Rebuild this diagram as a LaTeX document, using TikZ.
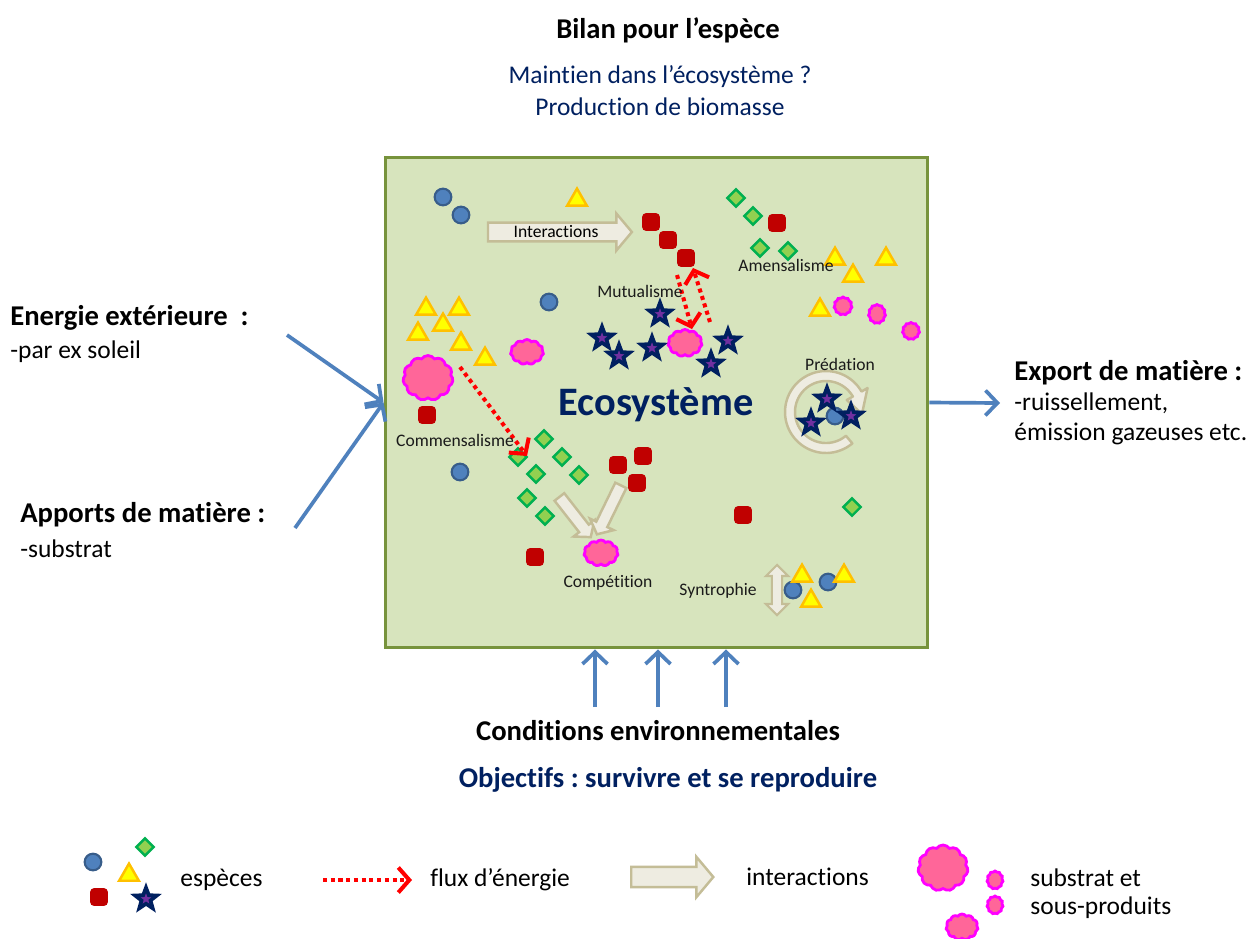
\documentclass[tikz,border=0pt]{standalone}
\usepackage{fontspec}
\setmainfont{Carlito}[Ligatures=NoCommon]
\usetikzlibrary{arrows.meta,positioning,shapes.geometric,shapes.symbols,shapes.arrows}
\frenchspacing
\definecolor{ecofill}{HTML}{D7E4BD}
\definecolor{ecoline}{HTML}{77933C}
\definecolor{flowc}{HTML}{4F81BD}
\definecolor{navytxt}{HTML}{002060}
\definecolor{inkline}{HTML}{1A1A1A}
\definecolor{spblue}{HTML}{4F81BD}
\definecolor{spblueline}{HTML}{385D8A}
\definecolor{spyel}{HTML}{FFFF00}
\definecolor{spyelline}{HTML}{FFC000}
\definecolor{spred}{HTML}{C00000}
\definecolor{spgreen}{HTML}{92D050}
\definecolor{spgreenline}{HTML}{00B050}
\definecolor{spstar}{HTML}{7030A0}
\definecolor{subfill}{HTML}{FF6699}
\definecolor{subline}{HTML}{FF00FF}
\definecolor{iafill}{HTML}{EEECE1}
\definecolor{ialine}{HTML}{C4BD97}
\newcommand{\bigt}[1]{{\fontsize{23}{26}\selectfont\bfseries #1}}

\begin{document}
\begin{tikzpicture}[
  x=0.02cm, y=-0.02cm,
  font=\fontsize{14.5}{17.5}\selectfont,
  txt/.style={anchor=west, align=left, inner sep=0pt},
  hd/.style={font=\fontsize{16.3}{19}\selectfont\bfseries, inner sep=0pt},
  lab/.style={font=\fontsize{10}{12}\selectfont, inner sep=0pt, text=inkline},
  eco/.style={draw=ecoline, fill=ecofill, line width=1.7pt, minimum width=10.86cm,
              minimum height=9.82cm, inner sep=0pt},
  flow/.style={-{Straight Barb[length=2.4mm,width=5mm]}, draw=flowc, line width=2.1pt},
  eflux/.style={-{Straight Barb[length=2.2mm,width=5mm]}, draw=red, line width=2.3pt,
                dash pattern=on 2.3pt off 2.1pt},
  % especes
  spc/.style={circle, fill=spblue, draw=spblueline, line width=1.2pt, minimum size=9.5pt, inner sep=0pt},
  spt/.style={regular polygon, regular polygon sides=3, fill=spyel, draw=spyelline, line width=1.4pt,
              minimum size=13pt, inner sep=0pt},
  sps/.style={rectangle, rounded corners=2pt, fill=spred, minimum size=10pt, inner sep=0pt},
  spd/.style={diamond, fill=spgreen, draw=spgreenline, line width=1.4pt, minimum size=10.5pt, inner sep=0pt},
  spk/.style={star, star points=5, star point ratio=2.4, fill=spstar, draw=navytxt, line width=2.1pt,
              minimum size=13pt, inner sep=0pt},
  subst/.style={cloud, cloud puffs=11, cloud puff arc=110, cloud ignores aspect, fill=subfill,
                draw=subline, line width=1.6pt, inner sep=0pt},
  % fleches d'interaction
  ia/.style={single arrow, fill=iafill, draw=ialine, line width=1.4pt, single arrow tip angle=100,
             single arrow head extend=5pt, inner xsep=0pt, inner ysep=1pt},
  iad/.style={double arrow, fill=iafill, draw=ialine, line width=1.2pt, double arrow head extend=3.4pt,
              inner xsep=0pt, inner ysep=2.3pt},
]
\fill[white] (0,0) rectangle (1257,938);
\useasboundingbox (0,0) rectangle (1257,938);

% ---- titres ----
\node[hd] (bilan) at (668,30) {Bilan pour l’espèce};
\node[align=center, text=navytxt, inner sep=0pt, font=\fontsize{14.5}{18.2}\selectfont] (maint) at (660,91)
  {Maintien dans l’écosystème ?\\Production de biomasse};

% ---- ecosysteme ----
\node[eco] (eco) at (656.5,402.5) {};
\node[text=navytxt, inner sep=0pt] (ecot) at (656,405) {\bigt{Ecosystème}};

% ---- entrees / sorties ----
\node[txt, hd] (energ) at (10,318) {Energie extérieure~~:};
\node[txt] (soleil) at (10,352) {-par ex soleil};
\node[txt, hd] (apport) at (20,515) {Apports de matière :};
\node[txt] (substr) at (20,549) {-substrat};
\node[txt, hd] (export) at (1014,373) {Export de matière :};
\node[txt, font=\fontsize{14.5}{17}\selectfont] (ruiss) at (1014,419) {-ruissellement,\\émission gazeuses etc.};
\node[hd] (cond) at (658,731) {Conditions environnementales};
\node[hd, text=navytxt] (obj) at (668,780) {Objectifs : survivre et se reproduire};

\coordinate (en0) at (287,335);
\coordinate (ap0) at (295,528);
\coordinate (ex1) at (1000,403);
\draw[flow] (en0) -- (eco.west);
\draw[flow] (ap0) -- (eco.west);
\draw[flow] (eco.east) -- (ex1);
\foreach \x [count=\i] in {595,658,726} {
  \coordinate (cd\i) at (\x,707);
  \draw[flow] (cd\i) -- (cd\i |- eco.south);
}

% ---- predation (fleche circulaire) ----
\filldraw[fill=iafill, draw=ialine, line width=1.4pt, line join=round]
  plot[domain=50:330, samples=60, variable=\t] ({826+41*cos(\t)},{412+41*sin(\t)})
  -- ({826+48*cos(330)},{412+48*sin(330)}) -- ({826+36*cos(3)},{412+36*sin(3)})
  -- ({826+24*cos(330)},{412+24*sin(330)})
  -- plot[domain=330:50, samples=60, variable=\t] ({826+31*cos(\t)},{412+31*sin(\t)}) -- cycle;

% ---- fleches d'interaction ----
\node[ia, minimum height=81.9pt, minimum width=21pt, font=\fontsize{10}{12}\selectfont] (iarr) at (556,232) {Interactions};
\node[ia, minimum height=29pt, minimum width=13.5pt, inner ysep=2.8pt, single arrow head extend=4pt, rotate=-52] (comp1) at (573.5,515) {};
\node[ia, minimum height=31pt, minimum width=13.5pt, inner ysep=2.8pt, single arrow head extend=4pt, rotate=-116] (comp2) at (610,507.5) {};
\node[iad, minimum height=28.5pt, minimum width=11.4pt, rotate=90] (synt) at (777,590) {};

% ---- substrats ----
\foreach \p/\w/\h [count=\i] in {(428,378)/28.5/25.6, (527,352)/18.8/14.2, (685,343)/19.4/15.4,
    (601,553)/19.4/14.8, (843,306)/10.2/10.2, (877,314)/9.7/10.8, (911,331)/9.7/9.7}
  \node[subst, minimum width=\w pt, minimum height=\h pt] (b\i) at \p {};

% ---- especes ----
\foreach \p [count=\i] in {(443,197),(461,215),(549,302),(460,472),(793,590),(828,582)}
  \node[spc] (c\i) at \p {};
\foreach \p [count=\i] in {(577,200),(426,309),(459,309),(443,325),(418,334),(461,344),(485,359),
    (835,259),(853,276),(886,259),(820,310),(802,576),(811,601),(844,576)}
  \node[spt] (t\i) at \p {};
\foreach \p [count=\i] in {(651,222),(668,240),(686,258),(777,223),(427,415),(618,465),(643,456),
    (637,483),(535,557),(743,515)}
  \node[sps] (s\i) at \p {};
\foreach \p [count=\i] in {(736,198),(753,216),(760,248),(788,251),(544,439),(518,457),(562,457),
    (536,474),(579,475),(527,498),(545,516),(852,507)}
  \node[spd] (d\i) at \p {};
\node[spc] (cpr) at (835,416) {};
\foreach \p [count=\i] in {(660,314),(602,338),(619,356),(652,348),(711,364),(728,341),
    (827,399),(811,423),(851,416)}
  \node[spk] (k\i) at \p {};

% ---- flux d'energie ----
\coordinate (cm0) at (460,367);
\coordinate (cm1) at (527,456);
\coordinate (mu0) at (677,275);
\coordinate (mu1) at (692,329);
\coordinate (mu2) at (710,322);
\coordinate (mu3) at (693,268);
\draw[eflux] (cm0) -- (cm1);
\draw[eflux] (mu0) -- (mu1);
\draw[eflux] (mu2) -- (mu3);

% ---- types d'interaction ----
\node[lab] (lmut) at (640,291) {Mutualisme};
\node[lab] (lame) at (786,265) {Amensalisme};
\node[lab] (lpre) at (840,364) {Prédation};
\node[lab] (lcom) at (455,440) {Commensalisme};
\node[lab] (lcmp) at (608,583) {Compétition};
\node[lab] (lsyn) at (718,591) {Syntrophie};

% ---- legende ----
\node[spc] (lgc) at (93,862) {};
\node[spd] (lgd) at (145,847) {};
\node[spt] (lgt) at (129,875) {};
\node[sps] (lgs) at (99,897) {};
\node[spk] (lgk) at (146,899) {};
\node[txt] (lgsp) at (180,880) {espèces};
\coordinate (lf0) at (323,880);
\coordinate (lf1) at (412,880);
\draw[eflux] (lf0) -- (lf1);
\node[txt] (lgfl) at (430,880) {flux d’énergie};
\node[ia, minimum height=46.7pt, minimum width=21.6pt, inner ysep=5.1pt, single arrow head extend=5.7pt] (lgia) at (668,877) {};
\node[txt] (lgin) at (746,877) {interactions};
\foreach \p/\w/\h [count=\i] in {(943,868)/28.5/26.2, (995,880)/9.1/10.2, (995,905)/9.1/10.2, (962,927)/18.2/14.8}
  \node[subst, minimum width=\w pt, minimum height=\h pt] (lgb\i) at \p {};
\node[txt, font=\fontsize{14.5}{16}\selectfont] (lgsb) at (1030,894) {substrat et\\sous-produits};

\end{tikzpicture}
\end{document}
